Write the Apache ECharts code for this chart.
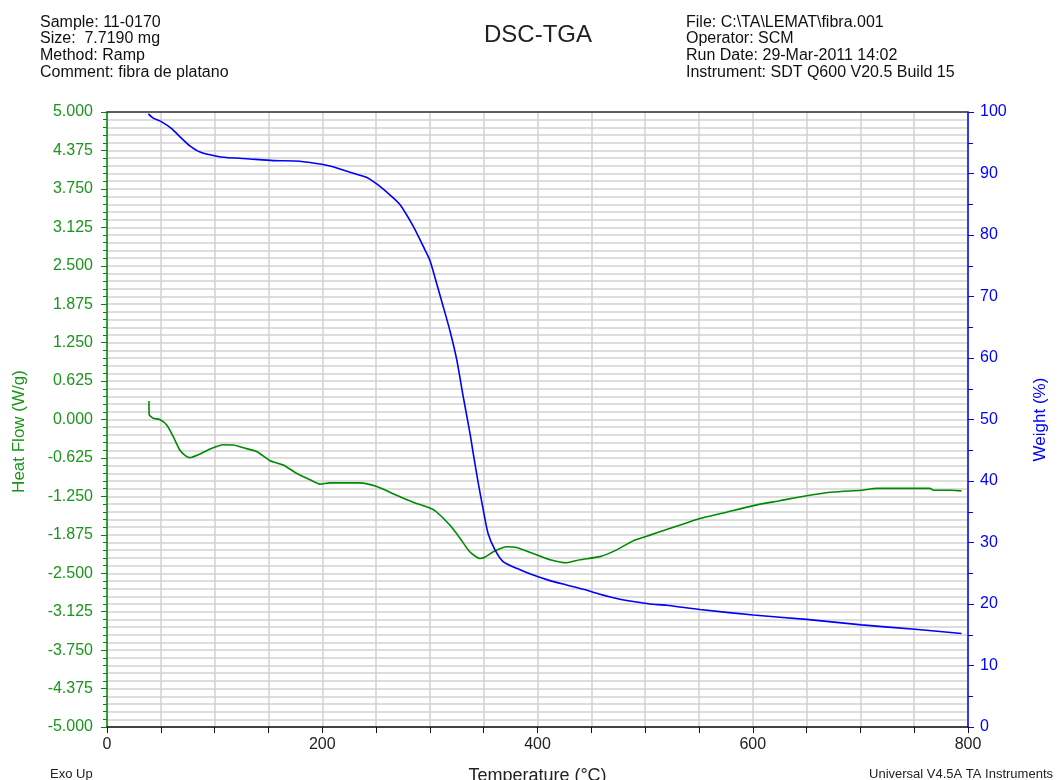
<!DOCTYPE html>
<html>
<head>
<meta charset="utf-8">
<title>DSC-TGA</title>
<script src="https://cdn.jsdelivr.net/npm/echarts@6/dist/echarts.min.js"></script>
<style>
  html, body { margin: 0; padding: 0; background: #fff; }
  #chart { width: 1061px; height: 780px; }
</style>
</head>
<body>
<div id="chart"></div>
<script>
// heat flow curve (W/g)
var hfTemp = [39, 39.2, 43, 49, 55.5, 61.6, 67.8, 74, 77, 86.4, 95.7, 108, 117.4, 126.7, 139, 151.5,
  163.8, 176, 188.6, 198, 207, 235, 250.6, 269, 284, 300, 306, 318.7, 328, 337, 346.6, 351, 359,
  371.4, 380.6, 396, 411.6, 427, 439.5, 458, 473.6, 489, 504.5, 520, 551, 572.6, 600.5, 625.3,
  650, 674.8, 701, 715, 764.7, 768, 784.8, 794];
var hfValue = [0.30, 0.08, 0.02, 0.0, -0.09, -0.28, -0.50, -0.605, -0.62, -0.56, -0.48, -0.41, -0.415,
  -0.46, -0.52, -0.67, -0.74, -0.875, -0.98, -1.05, -1.03, -1.03, -1.09, -1.23, -1.34, -1.44, -1.50,
  -1.72, -1.93, -2.15, -2.26, -2.24, -2.15, -2.07, -2.08, -2.18, -2.28, -2.33, -2.28, -2.23, -2.12,
  -1.97, -1.88, -1.79, -1.61, -1.52, -1.40, -1.32, -1.24, -1.18, -1.15, -1.12, -1.12, -1.15, -1.15, -1.16];

// weight curve (%)
var wtTemp = [38.4, 43, 50.8, 60, 69.4, 77, 86.4, 102, 111, 130, 154.5, 179, 199.5, 210, 225.8, 241,
  250.6, 263, 272, 284.6, 294, 300, 306.3, 312.5, 318.7, 325, 331, 337.3, 339.8, 345, 349.6, 354,
  360.5, 368, 380.6, 396, 411.6, 427, 442.6, 458, 473.6, 489, 504.5, 520, 551, 600.5, 650, 701, 750.8, 794];
var wtValue = [99.7, 99.0, 98.4, 97.3, 95.7, 94.5, 93.5, 92.8, 92.6, 92.4, 92.1, 92.0, 91.5, 91.1, 90.2,
  89.4, 88.3, 86.5, 85.0, 81.4, 78.1, 75.9, 72.1, 68.3, 64.4, 59.7, 53.7, 47.7, 45.0, 39.6, 35.3, 31.5,
  28.8, 26.9, 25.8, 24.7, 23.8, 23.1, 22.4, 21.6, 20.9, 20.4, 20.0, 19.8, 19.1, 18.2, 17.5, 16.6, 15.9, 15.2];

var headLeft = ['Sample: 11-0170', 'Size:  7.7190 mg', 'Method: Ramp', 'Comment: fibra de platano'];
var headRight = ['File: C:\\TA\\LEMAT\\fibra.001', 'Operator: SCM', 'Run Date: 29-Mar-2011 14:02',
  'Instrument: SDT Q600 V20.5 Build 15'];

function pairs(xs, ys) {
  var out = [];
  for (var i = 0; i < xs.length; i++) out.push([xs[i], ys[i]]);
  return out;
}

var green = '#008a00';
var greenText = '#1a961a';
var blue = '#0000ff';
var gridLine = { show: true, lineStyle: { color: '#d2d2d2', width: 1.5 } };
var font = 'Liberation Sans, Arial, sans-serif';

var chart = echarts.init(document.getElementById('chart'));
var option = {
  animation: false,
  textStyle: { fontFamily: font },
  title: [
    { text: 'DSC-TGA', left: 479, top: 18, textStyle: { fontSize: 24, fontWeight: 'normal', color: '#222', fontFamily: font } },
    { text: headLeft.join('\n'), left: 35, top: 9, textStyle: { fontSize: 16, fontWeight: 'normal', color: '#111', lineHeight: 16.7, fontFamily: font } },
    { text: headRight.join('\n'), left: 681, top: 9, textStyle: { fontSize: 16, fontWeight: 'normal', color: '#111', lineHeight: 16.7, fontFamily: font } },
    { text: 'Exo Up', left: 45, top: 763, textStyle: { fontSize: 13, fontWeight: 'normal', color: '#222', fontFamily: font } },
    { text: 'Universal V4.5A TA Instruments', right: 3, top: 763, textStyle: { fontSize: 13, fontWeight: 'normal', color: '#222', fontFamily: font } }
  ],
  grid: { left: 107, right: 93, top: 112, bottom: 53, outerBoundsMode: 'none', containLabel: false },
  xAxis: [
    {
      type: 'value', min: 0, max: 800, interval: 200,
      name: 'Temperature (°C)', nameLocation: 'middle', nameGap: 40,
      nameTextStyle: { fontSize: 18, color: '#222' },
      axisLine: { onZero: false, lineStyle: { color: '#111', width: 1.5 } },
      axisTick: { length: 6, lineStyle: { color: '#111' } },
      minorTick: { show: true, splitNumber: 4, length: 6, lineStyle: { color: '#111' } },
      axisLabel: { fontSize: 16, color: '#222', margin: 10 },
      splitLine: gridLine,
      minorSplitLine: gridLine
    },
    {
      type: 'value', min: 0, max: 800, position: 'top',
      axisLine: { show: true, onZero: false, lineStyle: { color: '#333', width: 1.5 } },
      axisTick: { show: false }, axisLabel: { show: false }, splitLine: { show: false }
    }
  ],
  yAxis: [
    {
      type: 'value', min: -5, max: 5, interval: 0.625, position: 'left',
      name: 'Heat Flow (W/g)', nameLocation: 'middle', nameGap: 79,
      nameTextStyle: { fontSize: 17, color: greenText, padding: [0, 24, 0, 0] },
      axisLine: { show: true, onZero: false, lineStyle: { color: green, width: 1.5 } },
      axisTick: { show: true, length: 6, lineStyle: { color: green } },
      minorTick: { show: true, splitNumber: 5, length: 4, lineStyle: { color: green } },
      axisLabel: { fontSize: 16, color: greenText, margin: 14, formatter: function (v) { return v.toFixed(3); } },
      splitLine: gridLine,
      minorSplitLine: gridLine
    },
    {
      type: 'value', min: 0, max: 100, interval: 10, position: 'right',
      name: 'Weight (%)', nameLocation: 'middle', nameGap: 64,
      nameTextStyle: { fontSize: 17, color: blue },
      axisLine: { show: true, onZero: false, lineStyle: { color: blue, width: 1.5 } },
      axisTick: { show: true, length: 6, lineStyle: { color: blue } },
      minorTick: { show: true, splitNumber: 2, length: 5, lineStyle: { color: blue } },
      axisLabel: { fontSize: 16, color: blue, margin: 12 },
      splitLine: { show: false }
    }
  ],
  series: [
    {
      name: 'Heat Flow', type: 'line', xAxisIndex: 0, yAxisIndex: 0,
      data: pairs(hfTemp, hfValue), showSymbol: false, smooth: 0.2,
      lineStyle: { color: green, width: 1.6 }
    },
    {
      name: 'Weight', type: 'line', xAxisIndex: 0, yAxisIndex: 1,
      data: pairs(wtTemp, wtValue), showSymbol: false, smooth: 0.2,
      lineStyle: { color: blue, width: 1.6 }
    }
  ]
};
chart.setOption(option);
</script>
</body>
</html>
